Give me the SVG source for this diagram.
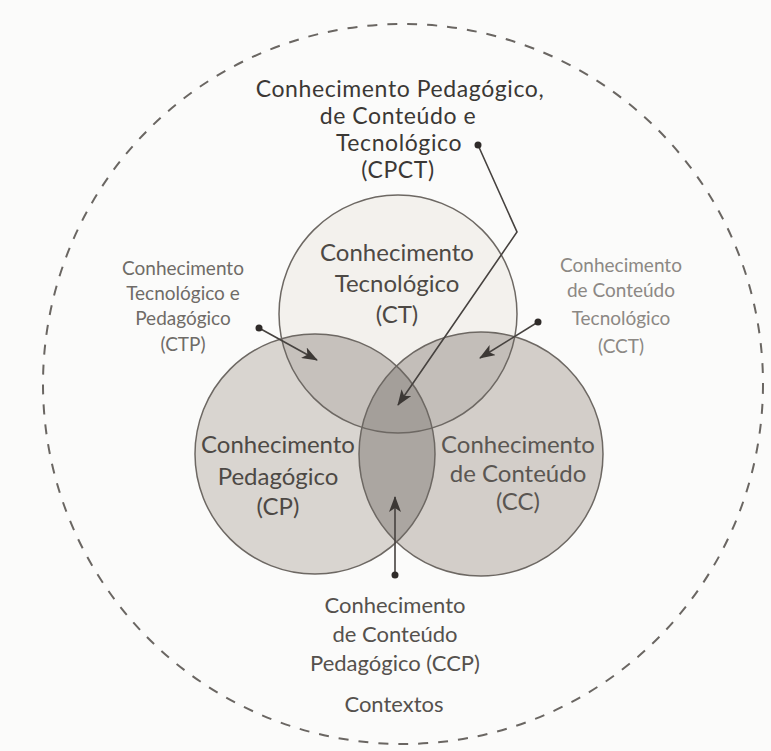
<svg xmlns="http://www.w3.org/2000/svg" width="771" height="751" viewBox="0 0 771 751">
<defs>
<style>
.t{font-family:Lato,"Open Sans","DejaVu Sans",sans-serif;text-anchor:middle}
.title{font-size:23px;fill:#3b3835;letter-spacing:0.6px}
.big{font-size:24px;fill:#4d4945}
.cc{font-size:24px;fill:#5a5652}
.small{font-size:19px;fill:#6f6b67}
.light{font-size:19px;fill:#8c8884}
.bot{font-size:22px;fill:#55514d}
.ring{fill:none;stroke:#6d6863;stroke-width:1.5}
.conn{fill:none;stroke:#46423f;stroke-width:1.6}
.dot{fill:#2f2b29}
</style>
<clipPath id="clipCT"><circle cx="398" cy="314" r="119"/></clipPath>
<clipPath id="clipCP"><circle cx="315" cy="454" r="120"/></clipPath>
<marker id="arr" viewBox="0 0 16 12" refX="15" refY="6" markerWidth="16" markerHeight="12" markerUnits="userSpaceOnUse" orient="auto">
<path d="M0,0 L16,6 L0,12 L4,6 Z" fill="#3c3835"/>
</marker>
</defs>
<rect width="771" height="751" fill="#fbfbfa"/>
<g id="contextos">
<circle cx="403" cy="384" r="360" fill="none" stroke="#6a6662" stroke-width="2" stroke-dasharray="10 10"/>
<text class="t bot" x="394" y="712">Contextos</text>
</g>
<g id="ct">
<circle cx="398" cy="314" r="119" fill="#f3f1ed"/>
</g>
<g id="cp">
<circle cx="315" cy="454" r="120" fill="#d9d5d0"/>
</g>
<g id="cc">
<circle cx="481" cy="454" r="122" fill="#d3cec9"/>
</g>
<g id="overlaps">
<circle cx="315" cy="454" r="120" fill="#c6c1bc" clip-path="url(#clipCT)"/>
<circle cx="481" cy="454" r="122" fill="#c3beb9" clip-path="url(#clipCT)"/>
<circle cx="481" cy="454" r="122" fill="#aba6a1" clip-path="url(#clipCP)"/>
<g clip-path="url(#clipCP)"><circle cx="481" cy="454" r="122" fill="#a49f9a" clip-path="url(#clipCT)"/></g>
</g>
<g id="outlines">
<circle class="ring" cx="398" cy="314" r="119"/>
<circle class="ring" cx="315" cy="454" r="120"/>
<circle class="ring" cx="481" cy="454" r="122"/>
</g>
<g id="ct-label">
<text class="t big" x="397" y="261">Conhecimento</text>
<text class="t big" x="397" y="292">Tecnológico</text>
<text class="t big" x="397" y="323">(CT)</text>
</g>
<g id="cp-label">
<text class="t big" x="278" y="453">Conhecimento</text>
<text class="t big" x="278" y="485">Pedagógico</text>
<text class="t big" x="278" y="515">(CP)</text>
</g>
<g id="cc-label">
<text class="t cc" x="518" y="453">Conhecimento</text>
<text class="t cc" x="518" y="482">de Conteúdo</text>
<text class="t cc" x="518" y="510">(CC)</text>
</g>
<g id="cpct">
<text class="t title" x="400" y="97">Conhecimento Pedagógico,</text>
<text class="t title" x="398" y="124">de Conteúdo e</text>
<text class="t title" x="399" y="151">Tecnológico</text>
<text class="t title" x="398" y="178">(CPCT)</text>
</g>
<g id="ctp">
<text class="t small" x="183" y="275">Conhecimento</text>
<text class="t small" x="183" y="300">Tecnológico e</text>
<text class="t small" x="183" y="325">Pedagógico</text>
<text class="t small" x="183" y="351">(CTP)</text>
</g>
<g id="cct">
<text class="t light" x="621" y="272">Conhecimento</text>
<text class="t light" x="621" y="297">de Conteúdo</text>
<text class="t light" x="621" y="325">Tecnológico</text>
<text class="t light" x="621" y="353">(CCT)</text>
</g>
<g id="ccp">
<text class="t bot" x="395" y="613">Conhecimento</text>
<text class="t bot" x="395" y="642">de Conteúdo</text>
<text class="t bot" x="395" y="671">Pedagógico (CCP)</text>
</g>
<g id="connectors">
<polyline class="conn" points="478,145 517,232 398,405" marker-end="url(#arr)"/>
<line class="conn" x1="259" y1="328" x2="317" y2="360" marker-end="url(#arr)"/>
<line class="conn" x1="538" y1="322" x2="480" y2="358" marker-end="url(#arr)"/>
<line class="conn" x1="395" y1="575" x2="395" y2="497" marker-end="url(#arr)"/>
<circle class="dot" cx="478" cy="145" r="3.5"/>
<circle class="dot" cx="259" cy="328" r="3.5"/>
<circle class="dot" cx="538" cy="322" r="3.5"/>
<circle class="dot" cx="395" cy="575" r="3.5"/>
</g>
</svg>
